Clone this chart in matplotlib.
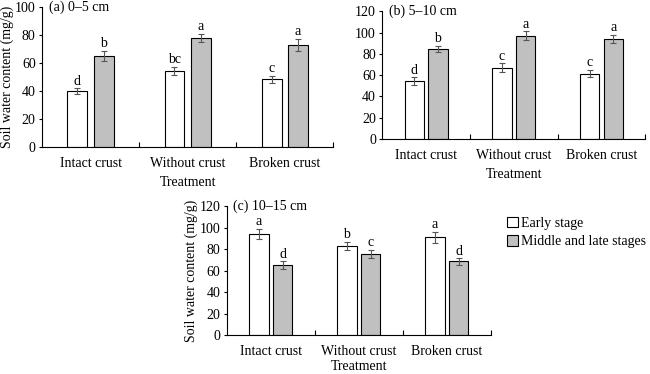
import numpy as np
import matplotlib
matplotlib.use('Agg')
import matplotlib.pyplot as plt
from matplotlib.patches import Patch

plt.rcParams['font.family'] = ['Liberation Serif', 'DejaVu Serif']
plt.rcParams['font.size'] = 10

# Data
treatments = ['Intact crust', 'Without crust', 'Broken crust']
series = ['Early stage', 'Middle and late stages']

early_a = [40, 54.5, 48.5]
late_a = [65, 78, 73]
early_a_err = [2, 3, 2.5]
late_a_err = [3.5, 3, 4.5]
early_a_let = ['d', 'bc', 'c']
late_a_let = ['b', 'a', 'a']

early_b = [54.5, 67, 61.5]
late_b = [84.5, 97, 94]
early_b_err = [3.5, 4, 3.5]
late_b_err = [3, 4, 4]
early_b_let = ['d', 'c', 'c']
late_b_let = ['b', 'a', 'a']

early_c = [94, 83, 91]
late_c = [65, 75.5, 68.5]
early_c_err = [5, 4, 5]
late_c_err = [3.5, 3.5, 3]
early_c_let = ['a', 'b', 'a']
late_c_let = ['d', 'c', 'd']

colors = ['white', '#c0c0c0']

fig = plt.figure(figsize=(6.5, 3.74), dpi=100)


def panel(rect, early, late, e_err, l_err, e_let, l_let, ymax, title, ylabel, width,
          xpad=4.5):
    ax = fig.add_axes(rect)
    x = np.arange(len(treatments))
    off = 0.135
    for vals, errs, lets, dx, col in [(early, e_err, e_let, -off, colors[0]),
                                      (late, l_err, l_let, off, colors[1])]:
        ax.bar(x + dx, vals, width, color=col, edgecolor='black', linewidth=0.8)
        ax.errorbar(x + dx, vals, yerr=errs, fmt='none', ecolor='#555555',
                    elinewidth=0.8, capsize=2.2, capthick=0.8)
        for xi, v, e, t in zip(x + dx, vals, errs, lets):
            ax.annotate(t, (xi, v + e), xytext=(0, 0.5), textcoords='offset points',
                        ha='center', va='bottom', fontsize=10)
    ax.set_xlim(-0.5, 2.5)
    ax.set_ylim(0, ymax)
    ax.set_yticks(np.arange(0, ymax + 1, 20))
    ax.set_xticks([0.5, 1.5, 2.5])
    ax.set_xticklabels([])
    ax.tick_params(axis='x', which='major', direction='in', length=3.5, width=0.8)
    ax.set_xticks(x, minor=True)
    ax.set_xticklabels(treatments, minor=True)
    ax.tick_params(axis='x', which='minor', length=0, pad=7)
    ax.tick_params(axis='y', direction='out', length=2.5, width=0.8, pad=2)
    for s in ['top', 'right']:
        ax.spines[s].set_visible(False)
    for s in ['left', 'bottom']:
        ax.spines[s].set_linewidth(0.8)
    ax.set_xlabel('Treatment', labelpad=xpad)
    if ylabel:
        ax.set_ylabel(ylabel, labelpad=1)
    ax.text(0.025, 1.0, title, transform=ax.transAxes, ha='left', va='center')
    return ax


panel([0.0646, 0.607, 0.448, 0.374], early_a, late_a, early_a_err, late_a_err,
      early_a_let, late_a_let, 100, '(a) 0–5 cm', 'Soil water content (mg/g)', 0.205)
panel([0.588, 0.628, 0.405, 0.342], early_b, late_b, early_b_err, late_b_err,
      early_b_let, late_b_let, 120, '(b) 5–10 cm', None, 0.22)
panel([0.349, 0.104, 0.406, 0.345], early_c, late_c, early_c_err, late_c_err,
      early_c_let, late_c_let, 120, '(c) 10–15 cm', 'Soil water content (mg/g)', 0.22,
      xpad=1.5)

handles = [Patch(facecolor=c, edgecolor='black', linewidth=0.8) for c in colors]
fig.legend(handles, series, loc='upper left', bbox_to_anchor=(0.780, 0.421),
           frameon=False, handlelength=0.8, handleheight=0.8, handletextpad=0.2,
           labelspacing=0.4, borderaxespad=0, borderpad=0, fontsize=10)

fig.savefig('out.png', dpi=100)
